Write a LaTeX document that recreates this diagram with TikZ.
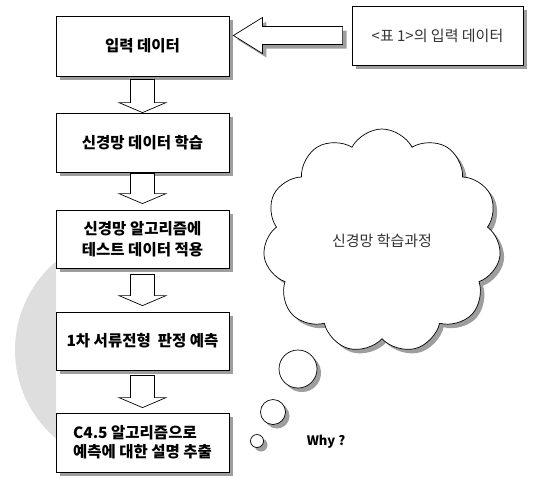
\documentclass[tikz,border=0pt]{standalone}
\usepackage{fontspec}
\newfontfamily\kr{Noto Sans CJK KR}
\usetikzlibrary{shapes.symbols,shadows,calc}
\begin{document}
\begin{tikzpicture}[x=1pt,y=-1pt,
  shad/.style={drop shadow={shadow xshift=4pt,shadow yshift=-4pt,fill=black!38,opacity=1}},
  box/.style={draw,fill=white,line width=0.8pt,minimum width=173pt,inner sep=0pt,
    shad,align=center,font=\kr\bfseries\fontsize{15.5}{21}\selectfont},
  blk/.style={draw,fill=white,line width=0.7pt,line join=miter},
  bub/.style={draw,fill=white,circle,inner sep=0pt,line width=0.7pt,shad}]
\useasboundingbox (0,0) rectangle (540,477);
% watermark
\begin{scope}
  \clip (0,0) rectangle (56,477);
  \fill[black!13] (131,350) circle[radius=116pt];
\end{scope}
% boxes
\node[box,minimum height=60pt] (b1) at (142.5,46) {입력 데이터};
\node[box,minimum height=59pt] (b2) at (142.5,142.5) {신경망 데이터 학습};
\node[box,minimum height=58pt] (b3) at (142.5,239) {신경망 알고리즘에\\테스트 데이터 적용};
\node[box,minimum height=58pt] (b4) at (142.5,341) {1차 서류전형\ \ 판정 예측};
\node[box,minimum height=59pt,align=left,font=\kr\bfseries\fontsize{15.5}{19}\selectfont] (b5) at (142.5,442.5) {C4.5 알고리즘으로\\예측에 대한 설명 추출};
\node[draw,fill=white,line width=0.8pt,minimum width=171pt,minimum height=59pt,shad,
  text=black!80,font=\kr\fontsize{15}{18}\selectfont] (src) at (437.5,35.5) {<표 1>의 입력 데이터};
% down block arrows
\foreach \a/\b/\s/\e in {b1/b2/3/0, b2/b3/1/-6, b3/b4/6/-6, b4/b5/5/-5}{
  \path ($(\a.south)+(0,\s)$) coordinate (t) ($(\b.north)+(0,\e)$) coordinate (p);
  \draw[blk] ($(t)+(-12,0)$) -- ($(p)+(-12,-10)$) -- ($(p)+(-23.5,-10)$) -- (p)
    -- ($(p)+(23.5,-10)$) -- ($(p)+(12,-10)$) -- ($(t)+(12,0)$) -- cycle;
}
% left block arrow
\coordinate (lt) at ($(b1.east |- src.west)+(4,0)$);
\coordinate (le) at ($(src.west)+(-9,0)$);
\draw[blk,shad] (lt) -- ($(lt)+(29,-18)$) -- ($(lt)+(29,-9)$) -- ($(le)+(0,-9)$)
  -- ($(le)+(0,9)$) -- ($(lt)+(29,9)$) -- ($(lt)+(29,18)$) -- cycle;
% cloud
\node[cloud,cloud puffs=11,cloud puff arc=125,draw,fill=white,line width=0.7pt,shad,
  minimum width=238pt,minimum height=224pt,text=black!80,
  font=\kr\fontsize{15}{18}\selectfont] (cl) at (382,241) {신경망 학습과정};
% thought bubbles
\node[bub,minimum size=38pt] (c1) at (298,369) {};
\node[bub,minimum size=25pt] (c2) at (273,412) {};
\node[bub,minimum size=13pt] (c3) at (257,441) {};
\node[font=\kr\bfseries\fontsize{13}{15}\selectfont] (why) at (326,442) {Why ?};
\end{tikzpicture}
\end{document}
